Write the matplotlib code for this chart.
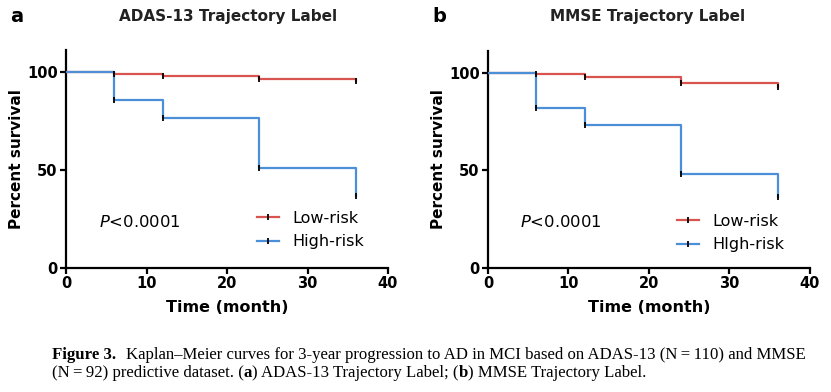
import matplotlib
matplotlib.use("Agg")
import matplotlib.pyplot as plt
from matplotlib.lines import Line2D

# ---- data ----
times = [0, 6, 12, 24, 36]
a_low = [100, 99.0, 97.6, 96.0, 95.0]
a_high = [100, 85.3, 76.2, 50.8, 36.5]
b_low = [100, 99.4, 97.7, 94.8, 92.5]
b_high = [100, 81.8, 73.0, 48.0, 36.5]
panel_titles = ["ADAS-13 Trajectory Label", "MMSE Trajectory Label"]
panel_letters = ["a", "b"]
legend_labels = [["Low-risk", "High-risk"], ["Low-risk", "HIgh-risk"]]
p_text = "<0.0001"
xticks = [0, 10, 20, 30, 40]
yticks = [0, 50, 100]

RED = "#d9534f"
BLUE = "#4a8fd8"

W, H = 831, 392
fig = plt.figure(figsize=(W / 100, H / 100), dpi=100)
fig.patch.set_facecolor("white")

def px_axes(left, top, right, bottom):
    return fig.add_axes([left / W, 1 - bottom / H, (right - left) / W, (bottom - top) / H])

axes_px = [(66, 50, 388, 268), (488, 51, 810, 268)]
data = [(a_low, a_high), (b_low, b_high)]
title_x = [228, 648]
letter_x = [10, 432]
legend_anchor = [(0.593, 0.174), (0.587, 0.161)]
p_pos = [(0.103, 0.21), (0.10, 0.21)]

for i in range(2):
    ax = px_axes(*axes_px[i])
    low, high = data[i]
    ax.step(times, low, where="post", color=RED, lw=1.6, zorder=3)
    ax.step(times, high, where="post", color=BLUE, lw=1.6, zorder=3)
    ax.plot(times[1:], low[1:], ls="none", marker="|", color="black", ms=5, mew=1.3, zorder=4)
    ax.plot(times[1:], high[1:], ls="none", marker="|", color="black", ms=5, mew=1.3, zorder=4)
    ax.set_xlim(0, 40)
    ax.set_ylim(0, 111)
    ax.set_xticks(xticks)
    ax.set_yticks(yticks)
    for s in ["top", "right"]:
        ax.spines[s].set_visible(False)
    for s in ["left", "bottom"]:
        ax.spines[s].set_linewidth(1.6)
    ax.tick_params(axis="both", direction="out", length=4, width=1.6, labelsize=10.5, pad=2)
    for lab in ax.get_xticklabels() + ax.get_yticklabels():
        lab.set_fontweight("bold")
    ax.set_xlabel("Time (month)", fontsize=11.5, fontweight="bold", labelpad=6)
    ax.set_ylabel("Percent survival", fontsize=11, fontweight="bold", labelpad=2)
    ax.text(p_pos[i][0], p_pos[i][1], r"$P$" + p_text, transform=ax.transAxes,
            fontsize=11.8, va="center")
    handles = [Line2D([], [], color=RED, lw=1.6, marker="|", mec="black", ms=5, mew=1.3),
               Line2D([], [], color=BLUE, lw=1.6, marker="|", mec="black", ms=5, mew=1.3)]
    ax.legend(handles, legend_labels[i], loc="center left", bbox_to_anchor=legend_anchor[i],
              frameon=False, fontsize=11.5, handlelength=1.375, handletextpad=0.85,
              labelspacing=0.55, numpoints=1, borderpad=0, borderaxespad=0)
    fig.text(title_x[i] / W, 1 - 16 / H, panel_titles[i], ha="center", va="center",
             fontsize=11, fontweight="bold", color="#222222")
    fig.text(letter_x[i] / W, 1 - 16 / H, panel_letters[i], ha="left", va="center",
             fontsize=14, fontweight="bold")

cap_font = ["Liberation Serif", "DejaVu Serif"]
cap_size = 12.1
fig.text(52 / W, 1 - 355 / H, "Figure 3.", ha="left", va="center", fontsize=cap_size,
         fontweight="bold", family=cap_font)
fig.text(126 / W, 1 - 355 / H,
         "Kaplan\u2013Meier curves for 3-year progression to AD in MCI based on ADAS-13 (N\u2009=\u2009110) and MMSE",
         ha="left", va="center", fontsize=cap_size, family=cap_font)
line2 = [("(N\u2009=\u200992) predictive dataset. (", "normal"), ("a", "bold"),
         (") ADAS-13 Trajectory Label; (", "normal"), ("b", "bold"),
         (") MMSE Trajectory Label.", "normal")]
fig.canvas.draw()
renderer = fig.canvas.get_renderer()
xpos = 52 / W
for txt, wt in line2:
    t = fig.text(xpos, 1 - 373 / H, txt, ha="left", va="center", fontsize=cap_size,
                 fontweight=wt, family=cap_font)
    bb = t.get_window_extent(renderer=renderer)
    xpos += bb.width / W

fig.savefig("out.png", dpi=100, facecolor="white")
